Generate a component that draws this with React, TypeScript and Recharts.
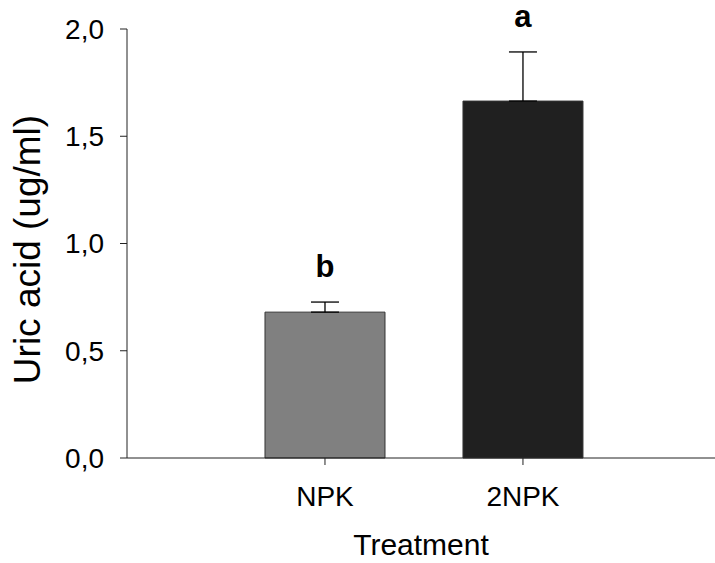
import {
  ComposedChart,
  Bar,
  Cell,
  ErrorBar,
  XAxis,
  YAxis,
  ReferenceDot,
} from "recharts";

const treatments = ["NPK", "2NPK"];
const positions = [1, 2];
const uricAcid = [0.68, 1.664];
const stdErr = [0.047, 0.229];
const letters = ["b", "a"];
const barColors = ["#808080", "#202020"];
const yTicks = [0, 0.5, 1.0, 1.5, 2.0];

const FONT = "'Liberation Sans', Arial, sans-serif";

const data = treatments.map((name, i) => ({
  name,
  pos: positions[i],
  value: uricAcid[i],
  err: [0, stdErr[i]],
}));

function YTitle({ viewBox }: any) {
  const cy = viewBox.y + viewBox.height / 2 + 6;
  const x = 40;
  return (
    <text
      x={x}
      y={cy}
      transform={`rotate(-90, ${x}, ${cy})`}
      textAnchor="middle"
      fontSize={37}
      fontFamily={FONT}
      fill="#000"
    >
      Uric acid (ug/ml)
    </text>
  );
}

export default function App() {
  return (
    <div style={{ position: "absolute", left: 0, top: 0, background: "#fff" }}>
      <ComposedChart
        width={715}
        height={563}
        data={data}
        margin={{ top: 29, right: 0, bottom: 0, left: 0 }}
      >
        <XAxis
          dataKey="pos"
          type="number"
          domain={[0, 2.97]}
          ticks={positions}
          allowDataOverflow
          tickFormatter={(v) => treatments[positions.indexOf(v)] ?? ""}
          height={105}
          tickSize={7}
          tickMargin={21}
          stroke="#222"
          tick={{ fill: "#000", fontSize: 28, fontFamily: FONT }}
          label={{
            value: "Treatment",
            position: "insideBottom",
            offset: 8,
            fill: "#000",
            fontSize: 30,
            fontFamily: FONT,
          }}
        />
        <YAxis
          type="number"
          domain={[0, 2]}
          ticks={yTicks}
          width={127}
          tickSize={7}
          tickMargin={16}
          stroke="#222"
          tickFormatter={(v) => v.toFixed(1).replace(".", ",")}
          tick={{ fill: "#000", fontSize: 28, fontFamily: FONT }}
          label={<YTitle />}
        />
        <Bar
          dataKey="value"
          barSize={120}
          stroke="#333"
          strokeWidth={1}
          isAnimationActive={false}
        >
          {data.map((d, i) => (
            <Cell key={d.name} fill={barColors[i]} />
          ))}
          <ErrorBar
            dataKey="err"
            direction="y"
            width={14}
            stroke="#000"
            strokeWidth={1.3}
            isAnimationActive={false}
          />
        </Bar>
        {data.map((d, i) => (
          <ReferenceDot
            key={d.name}
            x={d.pos}
            y={uricAcid[i] + stdErr[i]}
            r={0}
            stroke="none"
            label={{
              value: letters[i],
              position: "top",
              offset: 25,
              fill: "#000",
              fontSize: 31,
              fontWeight: "bold",
              fontFamily: FONT,
            }}
          />
        ))}
      </ComposedChart>
    </div>
  );
}
